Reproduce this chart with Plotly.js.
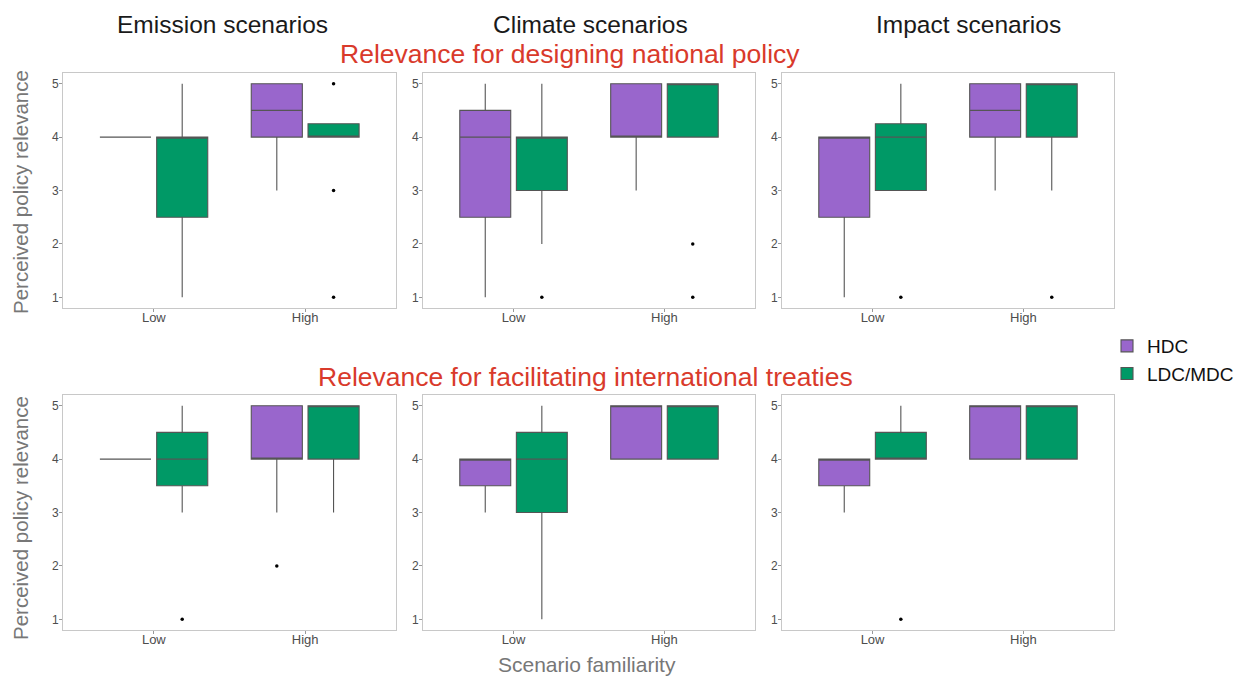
<!DOCTYPE html>
<html>
<head>
<meta charset="utf-8">
<script src="https://cdn.plot.ly/plotly-3.0.1.min.js"></script>
<style>html,body{margin:0;padding:0;background:#fff;}#chart{width:1244px;height:678px;}</style>
</head>
<body>
<div id="chart"></div>
<script>
// Categories and labels
const familiarity = ['Low', 'High'];
const groups = ['HDC', 'LDC/MDC'];
const scenarioTitles = ['Emission scenarios', 'Climate scenarios', 'Impact scenarios'];
const rowTitles = ['Relevance for designing national policy', 'Relevance for facilitating international treaties'];

// Box statistics per familiarity level: [lowerfence, q1, median, q3, upperfence]
// Row 1: national policy
const natEmissionHDC = [[4, 4, 4, 4, 4], [3, 4, 4.5, 5, 5]];
const natEmissionLDC = [[1, 2.5, 4, 4, 5], [4, 4, 4, 4.25, 4.25]];
const natClimateHDC = [[1, 2.5, 4, 4.5, 5], [3, 4, 4, 5, 5]];
const natClimateLDC = [[2, 3, 4, 4, 5], [4, 4, 5, 5, 5]];
const natImpactHDC = [[1, 2.5, 4, 4, 4], [3, 4, 4.5, 5, 5]];
const natImpactLDC = [[3, 3, 4, 4.25, 5], [3, 4, 5, 5, 5]];
// Row 2: international treaties
const intEmissionHDC = [[4, 4, 4, 4, 4], [3, 4, 4, 5, 5]];
const intEmissionLDC = [[3, 3.5, 4, 4.5, 5], [3, 4, 5, 5, 5]];
const intClimateHDC = [[3, 3.5, 4, 4, 4], [4, 4, 5, 5, 5]];
const intClimateLDC = [[1, 3, 4, 4.5, 5], [4, 4, 5, 5, 5]];
const intImpactHDC = [[3, 3.5, 4, 4, 4], [4, 4, 5, 5, 5]];
const intImpactLDC = [[4, 4, 4, 4.5, 5], [4, 4, 5, 5, 5]];

// Outlying responses per familiarity level
const natEmissionHDCout = [[], []];
const natEmissionLDCout = [[], [5, 3, 1]];
const natClimateHDCout = [[], []];
const natClimateLDCout = [[1], [2, 1]];
const natImpactHDCout = [[], []];
const natImpactLDCout = [[1], [1]];
const intEmissionHDCout = [[], [2]];
const intEmissionLDCout = [[1], []];
const intClimateHDCout = [[], []];
const intClimateLDCout = [[], []];
const intImpactHDCout = [[], []];
const intImpactLDCout = [[1], []];

const panels = [
  [natEmissionHDC, natEmissionHDCout, natEmissionLDC, natEmissionLDCout],
  [natClimateHDC, natClimateHDCout, natClimateLDC, natClimateLDCout],
  [natImpactHDC, natImpactHDCout, natImpactLDC, natImpactLDCout],
  [intEmissionHDC, intEmissionHDCout, intEmissionLDC, intEmissionLDCout],
  [intClimateHDC, intClimateHDCout, intClimateLDC, intClimateLDCout],
  [intImpactHDC, intImpactHDCout, intImpactLDC, intImpactLDCout]
];

const colors = ['#9966CC', '#009966'];
const W = 1244, H = 678;
const font = 'Liberation Sans, Arial, sans-serif';

const traces = [];
panels.forEach((p, k) => {
  const ax = k === 0 ? '' : String(k + 1);
  for (let g = 0; g < 2; g++) {
    const stats = p[g * 2];
    traces.push({
      type: 'box',
      name: groups[g],
      offsetgroup: groups[g],
      showlegend: k === 0,
      x: familiarity,
      lowerfence: stats.map(s => s[0]),
      q1: stats.map(s => s[1]),
      median: stats.map(s => s[2]),
      q3: stats.map(s => s[3]),
      upperfence: stats.map(s => s[4]),
      boxpoints: false,
      whiskerwidth: 0,
      fillcolor: colors[g],
      line: {color: '#555555', width: 1.1},
      xaxis: 'x' + ax,
      yaxis: 'y' + ax,
      hoverinfo: 'skip'
    });
  }
  for (let g = 0; g < 2; g++) {
    const outs = p[g * 2 + 1];
    const ox = [], oy = [];
    outs.forEach((vals, c) => vals.forEach(v => { ox.push(familiarity[c]); oy.push(v); }));
    traces.push({
      type: 'scatter', mode: 'markers',
      name: groups[g] + ' outliers',
      offsetgroup: groups[g],
      showlegend: false,
      x: ox, y: oy,
      marker: {color: '#000000', size: 3.5},
      xaxis: 'x' + ax,
      yaxis: 'y' + ax,
      hoverinfo: 'skip'
    });
  }
});

const xDomains = [[63 / W, 396 / W], [423 / W, 755 / W], [782 / W, 1114 / W]];
const yDomains = [[1 - 308 / H, 1 - 73 / H], [1 - 630 / H, 1 - 395 / H]];

const layout = {
  width: W, height: H,
  margin: {l: 0, r: 0, t: 0, b: 0, autoexpand: false},
  paper_bgcolor: '#ffffff',
  plot_bgcolor: '#ffffff',
  boxmode: 'group',
  boxgap: 0.25,
  boxgroupgap: 0.1,
  scattermode: 'group',
  scattergap: 0.25,
  showlegend: true,
  legend: {
    x: 1107 / W, y: 1 - 327 / H, xanchor: 'left', yanchor: 'top',
    font: {family: font, size: 19, color: '#111111'},
    tracegroupgap: 0, itemwidth: 30, bgcolor: 'rgba(0,0,0,0)'
  },
  annotations: [],
  font: {family: font}
};

for (let k = 0; k < 6; k++) {
  const ax = k === 0 ? '' : String(k + 1);
  const col = k % 3, row = Math.floor(k / 3);
  layout['xaxis' + ax] = {
    domain: xDomains[col],
    anchor: 'y' + ax,
    type: 'category',
    categoryorder: 'array',
    categoryarray: familiarity,
    range: [-0.6, 1.6],
    showgrid: false, zeroline: false,
    showline: true, mirror: true, linecolor: '#c8c8c8', linewidth: 1,
    ticks: 'outside', ticklen: 3, tickcolor: '#999999',
    ticklabelstandoff: -6,
    tickfont: {family: font, size: 13, color: '#4d4d4d'},
    fixedrange: true
  };
  layout['yaxis' + ax] = {
    domain: yDomains[row],
    anchor: 'x' + ax,
    range: [0.8, 5.2],
    tickvals: [1, 2, 3, 4, 5],
    showgrid: false, zeroline: false,
    showline: true, mirror: true, linecolor: '#c8c8c8', linewidth: 1,
    ticks: 'outside', ticklen: 3, tickcolor: '#999999',
    ticklabelstandoff: -2,
    tickfont: {family: font, size: 12, color: '#4d4d4d'},
    fixedrange: true
  };
}

// Column titles
const colCenters = [222, 590, 968];
scenarioTitles.forEach((t, i) => {
  layout.annotations.push({
    text: t, xref: 'paper', yref: 'paper', x: colCenters[i] / W, y: 1 - 24 / H,
    xanchor: 'center', yanchor: 'middle', showarrow: false,
    font: {family: font, size: 24.5, color: '#1a1a1a'}
  });
});
// Row titles
const rowY = [54, 377];
const rowX = [570, 585];
rowTitles.forEach((t, i) => {
  layout.annotations.push({
    text: t, xref: 'paper', yref: 'paper', x: rowX[i] / W, y: 1 - rowY[i] / H,
    xanchor: 'center', yanchor: 'middle', showarrow: false,
    font: {family: font, size: 26.5, color: '#D93A2B'}
  });
});
// Y axis titles
[192, 518].forEach(yc => {
  layout.annotations.push({
    text: 'Perceived policy relevance', xref: 'paper', yref: 'paper',
    x: 20 / W, y: 1 - yc / H, xanchor: 'center', yanchor: 'middle',
    textangle: -90, showarrow: false,
    font: {family: font, size: 20.5, color: '#777777'}
  });
});
// X axis title
layout.annotations.push({
  text: 'Scenario familiarity', xref: 'paper', yref: 'paper',
  x: 587 / W, y: 0, xanchor: 'center', yanchor: 'bottom', showarrow: false,
  font: {family: font, size: 21, color: '#777777'}
});

Plotly.newPlot('chart', traces, layout, {displayModeBar: false, staticPlot: true});
</script>
</body>
</html>
